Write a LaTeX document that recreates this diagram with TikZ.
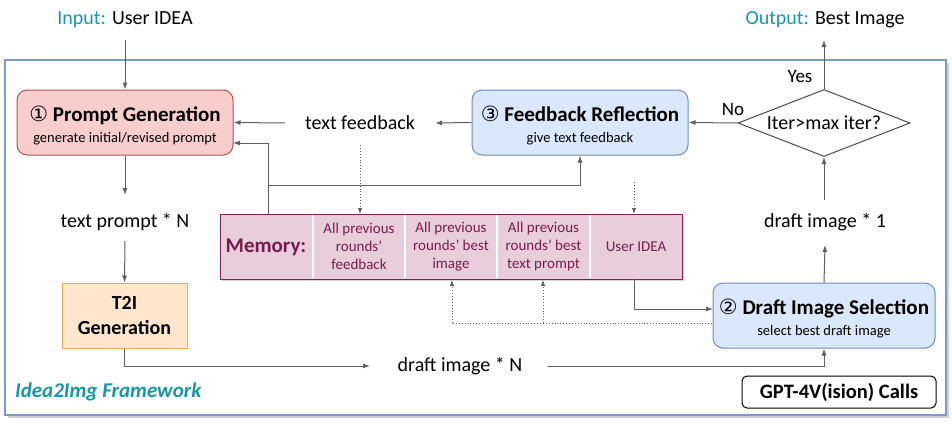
\documentclass[tikz,border=0pt]{standalone}
\usepackage{fontspec}
\setmainfont{Carlito}
\newfontfamily\djv{DejaVu Sans}
\usetikzlibrary{arrows.meta,shapes.geometric,shadows}
\definecolor{teal1}{RGB}{22,152,166}
\definecolor{frameblue}{RGB}{124,155,204}
\definecolor{redfill}{RGB}{248,206,204}
\definecolor{redline}{RGB}{184,84,80}
\definecolor{bluefill}{RGB}{218,232,252}
\definecolor{blueline}{RGB}{108,142,191}
\definecolor{orfill}{RGB}{255,230,204}
\definecolor{orline}{RGB}{240,170,80}
\definecolor{memfill}{RGB}{232,206,218}
\definecolor{memline}{RGB}{130,30,80}
\definecolor{memtext}{RGB}{120,28,78}
\definecolor{arr}{RGB}{95,95,95}
\newcommand{\subt}[1]{{\fontsize{14.5}{16}\selectfont #1}}
\newcommand{\tstrut}{\rule{0pt}{22pt}}
\tikzset{
  fs/.style={font=\fontsize{#1}{18}\selectfont},
  box/.style={rounded corners=10pt, line width=1pt, minimum width=#1, minimum height=65, align=center, inner sep=0, font=\fontsize{21}{21}\selectfont},
  redbox/.style={box=216, fill=redfill, draw=redline},
  bluebox/.style={box=#1, fill=bluefill, draw=blueline},
  lbl/.style={fs=20, inner sep=0},
  conn/.style={draw=arr, line width=1pt, -{Latex[length=7pt,width=5pt]}},
  dots/.style={draw=arr, line width=0.9pt, dotted, -{Latex[length=6pt,width=4.5pt]}},
  dotline/.style={draw=arr, line width=0.9pt, dotted},
  cell/.style={fs=15, text=memtext, align=center, inner sep=0},
}
\begin{document}
\begin{tikzpicture}[x=1pt,y=-1pt]
\useasboundingbox (0,0) rectangle (952,423);
% outer frame
\fill[black!18] (8,63) rectangle (949,418);
\draw[frameblue, line width=2.5pt, fill=white] (5,60) rectangle (946,415);

% input / output
\node[lbl] (in) at (125,20) {\textcolor{teal1}{Input:} User IDEA};
\node[lbl] (out) at (825,20) {\textcolor{teal1}{Output:} Best Image};

% main boxes
\node[redbox] (pg) at (125,122.5) {\tstrut{\bfseries{\djv\mdseries ①} Prompt Generation}\\\subt{generate initial/revised prompt}};
\node[bluebox=216] (fr) at (580,122.5) {\tstrut{\bfseries{\djv\mdseries ③} Feedback Reflection}\\\subt{give text feedback}};
\node[bluebox=222] (ds) at (824,315.5) {\tstrut{\bfseries{\djv\mdseries ②} Draft Image Selection}\\\subt{select best draft image}};
\node[draw=orline, fill=orfill, line width=1pt, minimum width=125, minimum height=65, align=center, inner sep=0, font=\bfseries\fontsize{20}{25}\selectfont] (t2i) at (124.5,315.5) {T2I\\Generation};
\node[diamond, draw=black!70, line width=1pt, fill=white, inner sep=0, aspect=2.57, minimum width=172, minimum height=67, fs=20] (dia) at (824,123) {Iter>max iter?};

% text labels
\node[lbl] (tf) at (360,123) {text feedback};
\node[lbl] (tp) at (125,222) {text prompt * N};
\node[lbl] (d1) at (825,222) {draft image * 1};
\node[lbl] (dn) at (460,366) {draft image * N};
\node[fs=19, inner sep=0] (yes) at (800,76) {Yes};
\node[fs=19, inner sep=0] (no) at (733,109) {No};
\node[inner sep=0, text=teal1, font=\bfseries\itshape\fontsize{21}{22}\selectfont, anchor=west] (fw) at (15,392) {Idea2Img Framework};
\node[draw=black, line width=1pt, rounded corners=5pt, fill=white, minimum width=194, minimum height=32, inner sep=0, font=\bfseries\fontsize{20.5}{22}\selectfont] (gpt) at (839,392) {GPT-4V(ision) Calls};

% memory
\node[draw=memline, fill=memfill, line width=1pt, minimum width=462, minimum height=65, inner sep=0, drop shadow={shadow xshift=2pt, shadow yshift=-2pt, opacity=0.3}] (mem) at (451,246.5) {};
\foreach \x in {313,405,497,590} \draw[white, line width=1.3pt] (\x,215) -- (\x,278);
\node[inner sep=0, text=memtext, font=\bfseries\fontsize{21}{23}\selectfont] (ml) at (266,247) {Memory:};
\node[cell] (c1) at (359,246.5) {All previous\\rounds'\\feedback};
\node[cell] (c2) at (451,246.5) {All previous\\rounds' best\\image};
\node[cell] (c3) at (543.5,246.5) {All previous\\rounds' best\\text prompt};
\node[cell] (c4) at (636,246.5) {User IDEA};

% connectors
\coordinate (inE) at (125,40);
\draw[conn] (inE) -- (pg.north);
\coordinate (pgb) at (125,195);
\draw[conn] (pg.south) -- (pgb);
\coordinate (tpb) at (125,241);
\draw[conn] (tpb) -- (t2i.north);
\coordinate (dnw) at (370,366);
\draw[conn] (t2i.south) |- (dnw);
\coordinate (dne) at (548,366);
\draw[conn] (dne) -| (ds.south);
\coordinate (dsn) at (825,245);
\draw[conn] (ds.north) -- (dsn);
\coordinate (d1n) at (824,200);
\draw[conn] (d1n) -- (dia.south);
\coordinate (outS) at (824,40);
\draw[conn] (dia.north) -- (outS);
\draw[conn] (dia.west) -- (fr.east);
\coordinate (frw) at (435,123);
\draw[conn] (fr.west) -- (frw);
\coordinate (tfw) at (285,123);
\draw[conn] (tfw) -- (pg.east);
% memory to prompt gen and feedback reflection
\coordinate (mtop) at (268,214);
\coordinate (pge) at (233,143);
\draw[conn] (mtop) |- (pge);
\coordinate (mjoin) at (268,185);
\draw[conn] (mjoin) -| (fr.south);
% dotted
\coordinate (tfs) at (360,145);
\coordinate (m1) at (360,214);
\draw[dots] (tfs) -- (m1);
\coordinate (frd) at (634,182);
\coordinate (m4) at (634,214);
\draw[dots] (frd) -- (m4);
% memory user idea to draft selection
\coordinate (m4b) at (634,279);
\coordinate (dsw) at (713,309);
\draw[conn] (m4b) |- (dsw);
% dotted from draft selection to memory
\coordinate (dsl) at (712,323);
\coordinate (m2b) at (452,280);
\coordinate (m3b) at (543,280);
\draw[dotline] (dsl) -- (452,323);
\draw[dots] (452,323) -- (m2b);
\draw[dots] (543,323) -- (m3b);
\end{tikzpicture}
\end{document}
